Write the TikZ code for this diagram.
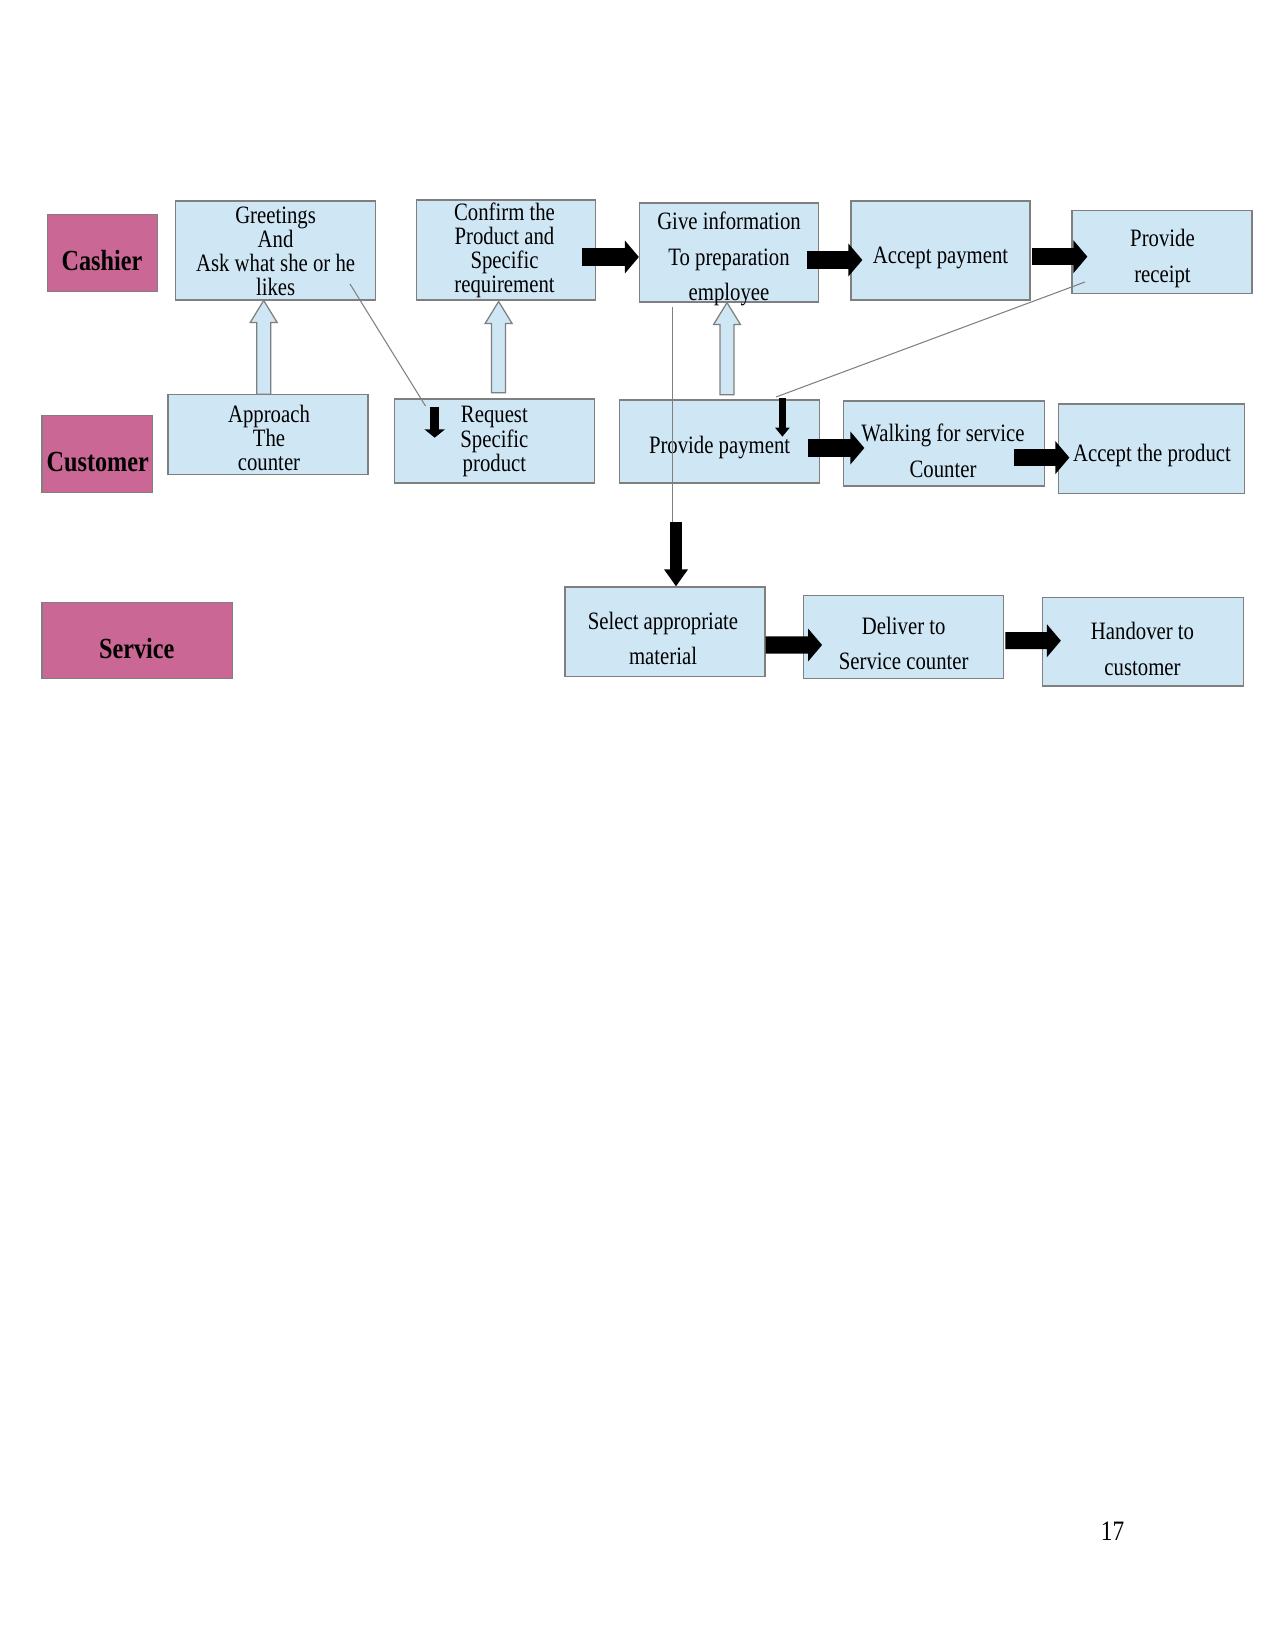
\documentclass[tikz,border=0pt]{standalone}
\usepackage{fontspec}
\setmainfont{Liberation Serif}[FakeStretch=0.83]
\usetikzlibrary{calc,arrows.meta}
\definecolor{boxblue}{HTML}{CFE7F5}
\definecolor{rolepink}{HTML}{CA6795}
\definecolor{edgegray}{HTML}{7F7F7F}
\begin{document}
\begin{tikzpicture}[x=0.48pt,y=-0.48pt,
  box/.style={draw=edgegray, fill=boxblue, line width=0.6pt, inner sep=0pt},
  role/.style={draw=edgegray, fill=rolepink, line width=0.6pt, inner sep=0pt},
  sz/.style 2 args={minimum width=#1*0.48pt, minimum height=#2*0.48pt},
  tight/.style={inner sep=0pt, align=center, font=\fontsize{12}{11.6}\selectfont},
  loose/.style={inner sep=0pt, align=center, font=\fontsize{12}{17.2}\selectfont},
  rolelbl/.style={inner sep=0pt, font=\fontsize{14}{16}\selectfont\bfseries},
  blk/.style={line width=8.2pt, -{Triangle[length=6.7pt,width=15.4pt]}},
  smalldn/.style={line width=4.3pt, -{Triangle[length=4pt,width=9.6pt]}},
  smalldnb/.style={line width=3.4pt, -{Triangle[length=4.3pt,width=6.7pt]}},
  bigdn/.style={line width=5.6pt, -{Triangle[length=8.2pt,width=11pt]}},
  thinline/.style={draw=edgegray, line width=0.5pt},
  hollowup/.style={draw=edgegray, fill=boxblue, line width=0.6pt,
    to path={let \p1=(\tikztostart), \p2=(\tikztotarget) in
      (\x1-3.36pt,\y1) -- (\x1-3.36pt,\y2-10.56pt) -- (\x1-6.48pt,\y2-10.56pt)
      -- (\x1,\y2) -- (\x1+6.48pt,\y2-10.56pt) -- (\x1+3.36pt,\y2-10.56pt)
      -- (\x1+3.36pt,\y1) -- cycle}}
]
\fill[white] (0,0) rectangle (1275,1650);
\useasboundingbox (0,0) rectangle (1275,1650);

% role boxes
\node[role, sz={110.5}{77}] (cash) at (102.5,253) {};
\node[role, sz={110.5}{77}] (cust) at (97.3,454) {};
\node[role, sz={190.5}{75.7}] (serv) at (137.3,640.7) {};

% process boxes
\node[box, sz={200}{99}] (gr) at (275.6,250.4) {};
\node[box, sz={179}{100}] (conf) at (506,249.9) {};
\node[box, sz={179}{99}] (gi) at (729,252.5) {};
\node[box, sz={179}{99}] (ap) at (940.5,250.5) {};
\node[box, sz={180}{83}] (rc) at (1162,252) {};
\node[box, sz={200}{80}] (appr) at (268,434.5) {};
\node[box, sz={200}{84}] (req) at (494.5,441) {};
\node[box, sz={200}{83}] (pp) at (719.6,441.4) {};
\node[box, sz={201}{85}] (walk) at (944,443.4) {};
\node[box, sz={186}{89.4}] (aprod) at (1151.4,448.7) {};
\node[box, sz={200}{89.4}] (sel) at (665,631.7) {};
\node[box, sz={200}{83}] (del) at (903.7,637) {};
\node[box, sz={201}{88.5}] (ho) at (1143,641.8) {};

% labels
\node[rolelbl] (cash-t) at (102,261) {Cashier};
\node[rolelbl] (cust-t) at (97.8,461.8) {Customer};
\node[rolelbl] (serv-t) at (136.8,649) {Service};

\node[tight] (gr-t) at (275.6,251.5) {Greetings\\And\\Ask what she or he\\likes};
\node[tight] (conf-t) at (504.5,250.5) {Confirm the\\Product and\\Specific\\requirement};
\node[loose] (gi-t) at (729,259) {Give information\\To preparation\\employee};
\node[loose] (ap-t) at (940.5,257.5) {Accept payment};
\node[loose] (rc-t) at (1162.5,258.5) {Provide\\receipt};
\node[tight] (appr-t) at (269,438) {Approach\\The\\counter};
\node[tight] (req-t) at (494.4,441.5) {Request\\Specific\\product};
\node[loose] (pp-t) at (719.6,448) {Provide payment};
\node[loose] (walk-t) at (943,451) {Walking for service\\Counter};
\node[loose] (aprod-t) at (1152,455.5) {Accept the product};
\node[loose] (sel-t) at (663,638.5) {Select appropriate\\material};
\node[loose] (del-t) at (903.7,643.5) {Deliver to\\Service counter};
\node[loose] (ho-t) at (1142.5,649) {Handover to\\customer};

\node[inner sep=0pt, font=\fontsize{13.5}{15}\selectfont] (pageno) at (1112.5,1531.5) {17};

% thin gray lines
\draw[thinline] ($(gr.center)+(74.4,33.6)$) -- ($(req.center)+(-69,-35)$);
\draw[thinline] ($(rc.center)+(-77,30)$) -- ($(pp.center)+(56.4,-44.4)$);
\draw[thinline] ($(gi.south)+(-56.7,4)$) coordinate (vtop) -- ++(0,216.5) coordinate (vbot);

% hollow up arrows
\draw[hollowup] ($(appr.north)+(-4.3,0.5)$) to (gr.south);
\draw[hollowup] ($(req.north)+(4.1,-5.5)$) to ($(conf.south)+(0,1)$);
\draw[hollowup] ($(pp.north)+(7.4,-4.4)$) to (gi.south);

% black block arrows
\draw[blk] ($(conf.east)+(-13.8,7.1)$) -- ($(gi.west)+(0,4.5)$);
\draw[blk] ($(gi.east)+(-12.5,7.5)$) -- ($(ap.west)+(12,9.5)$);
\draw[blk] ($(ap.east)+(1,6.2)$) -- ($(rc.west)+(16,4.7)$);
\draw[blk] ($(pp.east)+(-12,6.6)$) -- ($(walk.west)+(21.5,4.6)$);
\draw[blk] ($(walk.east)+(-31.5,14.2)$) -- ($(aprod.west)+(11.6,8.9)$);
\draw[blk] ($(sel.east)+(0,13.3)$) -- ($(del.west)+(19,8)$);
\draw[blk] ($(del.east)+(1,3.7)$) -- ($(ho.west)+(19,-1.1)$);

% small down arrows
\draw[smalldn] ($(req.center)+(-59.8,-34.3)$) -- ($(req.center)+(-59.8,-3.3)$);
\draw[smalldnb] ($(pp.north)+(62.8,-0.9)$) -- ($(pp.north)+(62.8,37.4)$);
\draw[bigdn] ($(sel.north)+(11,-64.5)$) -- ($(sel.north)+(11,0)$);
\end{tikzpicture}
\end{document}
